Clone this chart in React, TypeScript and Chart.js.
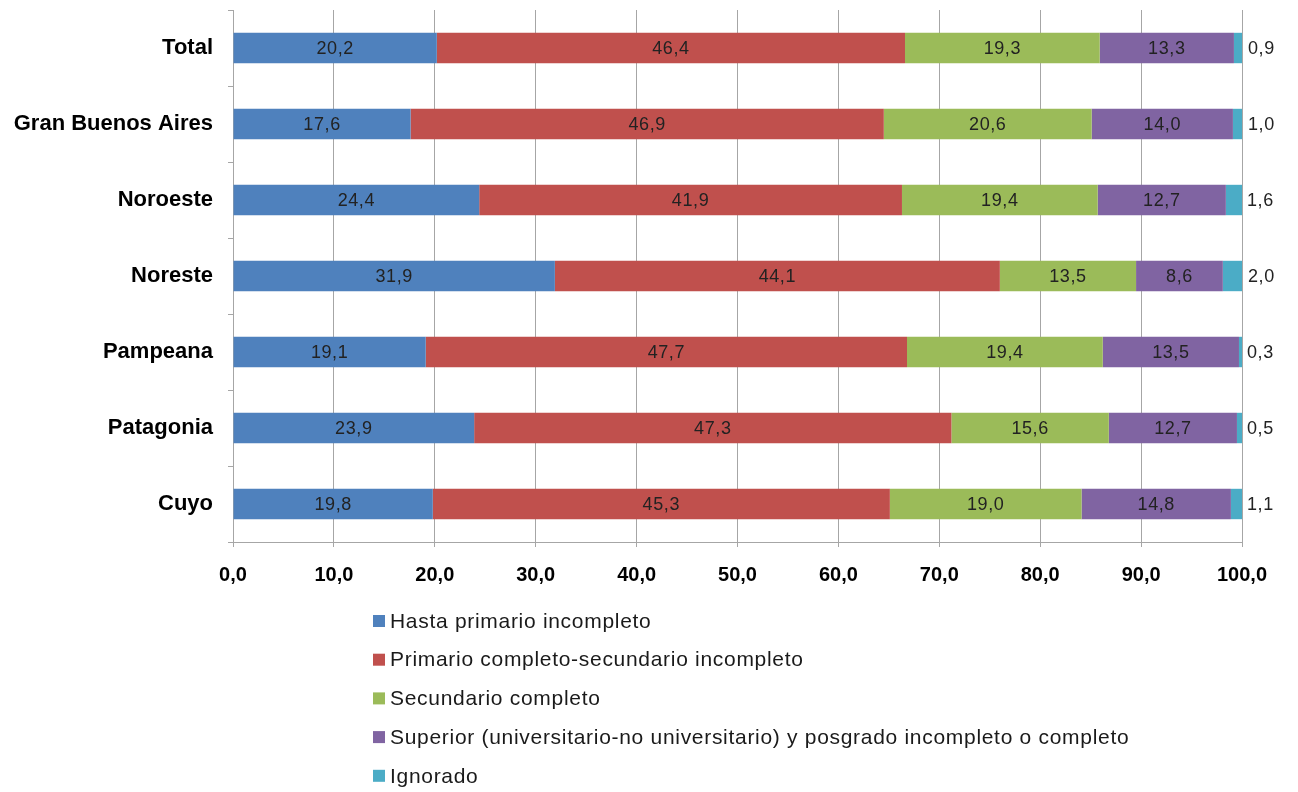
import React, { useEffect, useRef } from "react";
import { Chart, registerables } from "chart.js";

Chart.register(...registerables);

const categories = ["Total", "Gran Buenos Aires", "Noroeste", "Noreste", "Pampeana", "Patagonia", "Cuyo"];
const seriesNames = [
  "Hasta primario incompleto",
  "Primario completo-secundario incompleto",
  "Secundario completo",
  "Superior (universitario-no universitario) y posgrado incompleto o completo",
  "Ignorado",
];
const hastaPrimario = [20.2, 17.6, 24.4, 31.9, 19.1, 23.9, 19.8];
const primarioCompleto = [46.4, 46.9, 41.9, 44.1, 47.7, 47.3, 45.3];
const secundarioCompleto = [19.3, 20.6, 19.4, 13.5, 19.4, 15.6, 19.0];
const superior = [13.3, 14.0, 12.7, 8.6, 13.5, 12.7, 14.8];
const ignorado = [0.9, 1.0, 1.6, 2.0, 0.3, 0.5, 1.1];
const colors = ["#4F81BD", "#C0504D", "#9BBB59", "#8064A2", "#4BACC6"];

const fmt = (v: number) => v.toFixed(1).replace(".", ",");

const labelPlugin = {
  id: "valueLabels",
  afterDatasetsDraw(chart: any) {
    const ctx = chart.ctx;
    ctx.save();
    ctx.font = "18px 'Liberation Sans', Arial, sans-serif";
    (ctx as any).letterSpacing = "0.6px";
    ctx.fillStyle = "#222222";
    ctx.textBaseline = "middle";
    chart.data.datasets.forEach((ds: any, di: number) => {
      const meta = chart.getDatasetMeta(di);
      meta.data.forEach((el: any, i: number) => {
        const v = ds.data[i];
        if (di === chart.data.datasets.length - 1) {
          ctx.textAlign = "left";
          ctx.fillText(fmt(v), Math.max(el.x, el.base) + 5, el.y + 1);
        } else {
          ctx.textAlign = "center";
          ctx.fillText(fmt(v), (el.x + el.base) / 2, el.y + 1);
        }
      });
    });
    ctx.restore();
  },
};

const legendPlugin = {
  id: "verticalLegend",
  afterDraw(chart: any) {
    const ctx = chart.ctx;
    ctx.save();
    ctx.font = "21px 'Liberation Sans', Arial, sans-serif";
    (ctx as any).letterSpacing = "0.7px";
    ctx.textBaseline = "middle";
    ctx.textAlign = "left";
    const x0 = 373;
    const y0 = 621;
    const step = 38.7;
    chart.data.datasets.forEach((ds: any, i: number) => {
      const y = y0 + i * step;
      ctx.fillStyle = ds.backgroundColor;
      ctx.fillRect(x0, y - 6, 12, 12);
      ctx.fillStyle = "#1a1a1a";
      ctx.fillText(ds.label, x0 + 17, y + 1);
    });
    ctx.restore();
  },
};

export default function App() {
  const ref = useRef<HTMLCanvasElement | null>(null);
  useEffect(() => {
    document.body.style.margin = "0";
    const seriesData = [hastaPrimario, primarioCompleto, secundarioCompleto, superior, ignorado];
    const chart = new Chart(ref.current as HTMLCanvasElement, {
      type: "bar",
      data: {
        labels: categories,
        datasets: seriesData.map((d, i) => ({
          label: seriesNames[i],
          data: d,
          backgroundColor: colors[i],
          borderWidth: 0,
          categoryPercentage: 1,
          barPercentage: 0.4,
        })),
      },
      options: {
        indexAxis: "y",
        responsive: false,
        animation: false,
        layout: { padding: { top: 10, right: 56, bottom: 200, left: 0 } },
        plugins: {
          legend: { display: false },
          tooltip: { enabled: false },
        },
        scales: {
          x: {
            stacked: true,
            min: 0,
            max: 100,
            ticks: {
              stepSize: 10,
              color: "#000",
              padding: 16,
              font: { family: "'Liberation Sans', Arial, sans-serif", size: 20, weight: "bold" },
              callback: (v: any) => fmt(Number(v)),
            },
            grid: { color: "#a6a6a6", lineWidth: 1, tickLength: 5 },
            border: { color: "#a6a6a6" },
            afterFit: (s: any) => {
              s.height = 50;
            },
          },
          y: {
            stacked: true,
            ticks: {
              color: "#000",
              padding: 15,
              font: { family: "'Liberation Sans', Arial, sans-serif", size: 22, weight: "bold" },
            },
            grid: { drawOnChartArea: false, color: "#a6a6a6", tickLength: 5, offset: true },
            border: { color: "#a6a6a6" },
            afterFit: (s: any) => {
              s.width = 233;
              s.paddingTop = 0;
              s.paddingBottom = 0;
            },
          },
        },
      },
      plugins: [labelPlugin, legendPlugin],
    } as any);
    return () => chart.destroy();
  }, []);
  return (
    <div style={{ position: "absolute", left: 0, top: 0, width: 1298, height: 792 }}>
      <canvas ref={ref} width={1298} height={792} />
    </div>
  );
}
